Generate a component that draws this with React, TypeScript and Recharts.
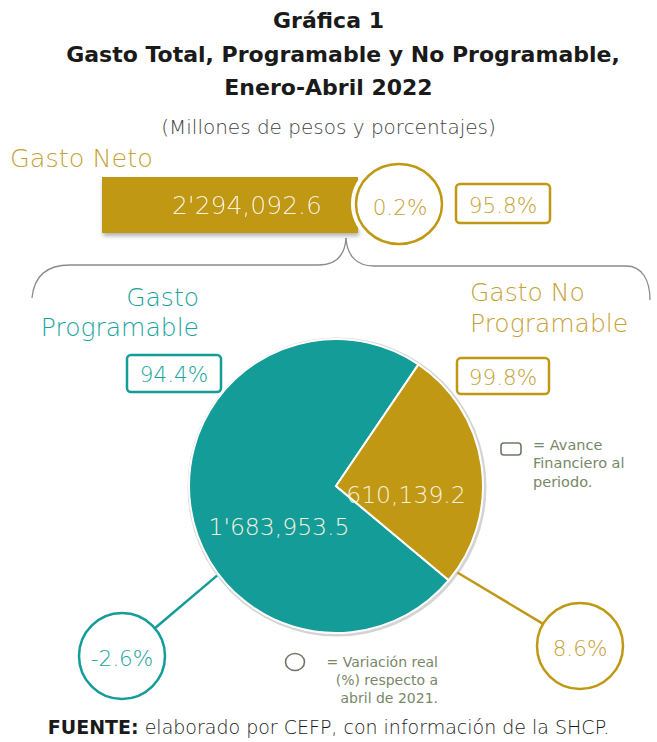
import React from 'react';
import { PieChart, Pie, Cell, BarChart, Bar, XAxis, YAxis } from 'recharts';

// datos (millones de pesos y %)
const categorias = ['Gasto Programable', 'Gasto No Programable'];
const montos = [1683953.5, 610139.2];
const avanceFinanciero = [94.4, 99.8];
const variacionReal = [-2.6, 8.6];

const netoNombre = ['Gasto Neto'];
const netoMonto = [2294092.6];
const netoAvance = [95.8];
const netoVariacion = [0.2];

const TEAL = '#139c98';
const GOLD = '#c09813';
const GOLD_TEXT = '#c6a136';
const TEAL_TEXT = '#1aa39e';
const CREAM = '#f7f1de';
const GRAY = '#8c8c8c';
const LEG = '#788767';
const FONT = '"DejaVu Sans", sans-serif';
const W = 657;
const H = 742;

const fmtMonto = (v: number) => {
  const ent = v.toFixed(1).split('.');
  const grupos: string[] = [];
  for (let i = ent[0].length; i > 0; i -= 3) grupos.unshift(ent[0].slice(Math.max(0, i - 3), i));
  let out = '';
  grupos.forEach((g, i) => {
    const resto = grupos.length - i;
    out += g;
    if (resto === 3) out += "'";
    else if (resto === 2) out += ',';
  });
  return out + '.' + ent[1];
};
const fmtPct = (v: number) => `${v.toFixed(1)}%`;

// geometria del pastel
const PIE_CX = 336;
const PIE_CY = 486;
const PIE_R = 147;
const total = montos.reduce((a, b) => a + b, 0);
const startAngle = 8 + (montos[1] / total) * 180;

const pieData = categorias.map((c, i) => ({ name: c, value: montos[i] }));
const colores = [TEAL, GOLD];
const textoColores = [TEAL_TEXT, GOLD_TEXT];

// posiciones de las anotaciones
const valorOffset = [[-57, 41], [70, 9]];
const calloutAngulo = [217, -35.5];
const calloutCentro = [[122, 656], [580, 646]];
const avanceCaja = [
  { x: 127, y: 355, w: 94, h: 37 },
  { x: 457, y: 358, w: 92, h: 36 },
];

const renderValor = (props: any) => {
  const { cx, cy, index } = props;
  const [dx, dy] = valorOffset[index];
  return (
    <text x={cx + dx} y={cy + dy} textAnchor="middle" dominantBaseline="central" fill={CREAM}
      fontSize={23.5} fontFamily={FONT} fontWeight={300}>
      {fmtMonto(montos[index])}
    </text>
  );
};

const renderNeto = (props: any) => {
  const { x, y, width, height } = props;
  return (
    <text x={x + width * 0.566} y={y + height / 2} textAnchor="middle" dominantBaseline="central" fill={CREAM}
      fontSize={25} fontFamily={FONT} fontWeight={300}>
      {fmtMonto(netoMonto[0])}
    </text>
  );
};

export default function App() {
  const netoData = netoNombre.map((n, i) => ({ name: n, valor: netoMonto[i] }));
  return (
    <div style={{ position: 'absolute', left: 0, top: 0, width: W, height: H, background: '#fff', overflow: 'hidden' }}>
      {/* anillo gris del pastel */}
      <svg width={W} height={H} style={{ position: 'absolute', left: 0, top: 0 }}>
        <circle cx={PIE_CX + 1} cy={PIE_CY + 1} r={PIE_R + 2.5} fill="#d4d4d4" />
      </svg>

      <div style={{ position: 'absolute', left: 0, top: 0 }}>
        <PieChart width={W} height={H} margin={{ top: 0, right: 0, bottom: 0, left: 0 }}>
          <Pie data={pieData} dataKey="value" nameKey="name" cx={PIE_CX} cy={PIE_CY} outerRadius={PIE_R}
            startAngle={startAngle} endAngle={startAngle + 360} stroke="#fff" strokeWidth={2}
            label={renderValor} labelLine={false} isAnimationActive={false}>
            {pieData.map((d, i) => (
              <Cell key={d.name} fill={colores[i]} />
            ))}
          </Pie>
        </PieChart>
      </div>

      <div style={{ position: 'absolute', left: 102, top: 177, filter: 'drop-shadow(1px 3px 2px rgba(0,0,0,0.3))' }}>
        <BarChart width={256} height={56} layout="vertical" data={netoData} barCategoryGap={0}
          margin={{ top: 0, right: 0, bottom: 0, left: 0 }}>
          <XAxis type="number" domain={[0, netoMonto[0]]} hide />
          <YAxis type="category" dataKey="name" hide />
          <Bar dataKey="valor" fill={GOLD} isAnimationActive={false} label={renderNeto} />
        </BarChart>
      </div>

      <svg width={W} height={H} style={{ position: 'absolute', left: 0, top: 0 }} fontFamily={FONT}>
        {/* titulos */}
        <g fontWeight="bold" fontSize={22} fill="#1a1a1a" textAnchor="middle">
          <text x={328.5} y={28}>Gráfica 1</text>
          <text x={343} y={62}>Gasto Total, Programable y No Programable,</text>
          <text x={328.5} y={95}>Enero-Abril 2022</text>
        </g>
        <text x={328.5} y={134} textAnchor="middle" fontSize={20} fill="#3f3f3f" fontWeight={300}>
          (Millones de pesos y porcentajes)
        </text>

        <text x={10} y={167} fontSize={25.5} fill={GOLD_TEXT} fontWeight={300}>{netoNombre[0]}</text>

        {/* variacion del gasto neto */}
        <ellipse cx={399} cy={204} rx={44} ry={41} fill="#fff" stroke="#fff" strokeWidth={8} />
        <ellipse cx={399} cy={204} rx={43} ry={40} fill="#fff" stroke={GOLD} strokeWidth={2.5} />
        <text x={400} y={207} textAnchor="middle" dominantBaseline="central" fontSize={21.5} fill={GOLD_TEXT} fontWeight={300}>
          {fmtPct(netoVariacion[0])}
        </text>
        <rect x={456} y={184} width={94} height={39} rx={4} fill="#fff" stroke={GOLD} strokeWidth={2.5} />
        <text x={503} y={205} textAnchor="middle" dominantBaseline="central" fontSize={21.5} fill={GOLD_TEXT} fontWeight={300}>
          {fmtPct(netoAvance[0])}
        </text>

        {/* llave */}
        <path d="M32,298 C34,276 46,265 70,265 L318,265 C336,265 345,255 346,238" fill="none" stroke={GRAY} strokeWidth={1.3} />
        <path d="M346,238 C347,255 356,266 374,266 L626,266 C642,266 650,280 650,300" fill="none" stroke={GRAY} strokeWidth={1.3} />

        {/* nombres de categoria */}
        <g fontSize={25} fontWeight={300}>
          <text x={199} y={306} textAnchor="end" fill={TEAL_TEXT}>Gasto</text>
          <text x={199} y={336} textAnchor="end" fill={TEAL_TEXT}>Programable</text>
          <text x={470} y={301} fill={GOLD_TEXT}>Gasto No</text>
          <text x={470} y={332} fill={GOLD_TEXT}>Programable</text>
        </g>

        {/* avance financiero */}
        {avanceCaja.map((b, i) => (
          <g key={`av-${i}`}>
            <rect x={b.x} y={b.y} width={b.w} height={b.h} rx={4} fill="#fff" stroke={colores[i]} strokeWidth={2.5} />
            <text x={b.x + b.w / 2} y={b.y + b.h / 2 + 1} textAnchor="middle" dominantBaseline="central"
              fontSize={21.5} fill={textoColores[i]} fontWeight={300}>
              {fmtPct(avanceFinanciero[i])}
            </text>
          </g>
        ))}

        {/* variacion real */}
        {calloutCentro.map(([ccx, ccy], i) => {
          const a = (calloutAngulo[i] * Math.PI) / 180;
          const ex = PIE_CX + (PIE_R + 2) * Math.cos(a);
          const ey = PIE_CY - (PIE_R + 2) * Math.sin(a);
          const d = Math.hypot(ccx - ex, ccy - ey);
          const lx = ccx - ((ccx - ex) / d) * 43;
          const ly = ccy - ((ccy - ey) / d) * 43;
          return (
            <g key={`var-${i}`}>
              <line x1={ex} y1={ey} x2={lx} y2={ly} stroke={colores[i]} strokeWidth={2.5} />
              <circle cx={ccx} cy={ccy} r={43} fill="#fff" stroke={colores[i]} strokeWidth={2.5} />
              <text x={ccx} y={ccy + 2} textAnchor="middle" dominantBaseline="central" fontSize={21.5}
                fill={textoColores[i]} fontWeight={300}>
                {fmtPct(variacionReal[i])}
              </text>
            </g>
          );
        })}

        {/* leyendas */}
        <rect x={501} y={443} width={20} height={12} rx={3} fill="none" stroke="#6f7868" strokeWidth={1.6} />
        <g fontSize={14.5} fill={LEG}>
          <text x={533} y={450}>= Avance</text>
          <text x={533} y={468}>Financiero al</text>
          <text x={533} y={487}>periodo.</text>
        </g>
        <ellipse cx={295} cy={662} rx={9.5} ry={8.5} fill="none" stroke="#6f7868" strokeWidth={1.6} />
        <g fontSize={14} fill={LEG} textAnchor="end">
          <text x={438} y={667}>=  Variación real</text>
          <text x={438} y={685}>(%) respecto a</text>
          <text x={438} y={703}>abril de 2021.</text>
        </g>

        <text x={328.5} y={734} textAnchor="middle" fontSize={19} fill="#1a1a1a">
          <tspan fontWeight="bold">FUENTE:</tspan>
          <tspan fontWeight={300}> elaborado por CEFP, con información de la SHCP.</tspan>
        </text>
      </svg>
    </div>
  );
}
